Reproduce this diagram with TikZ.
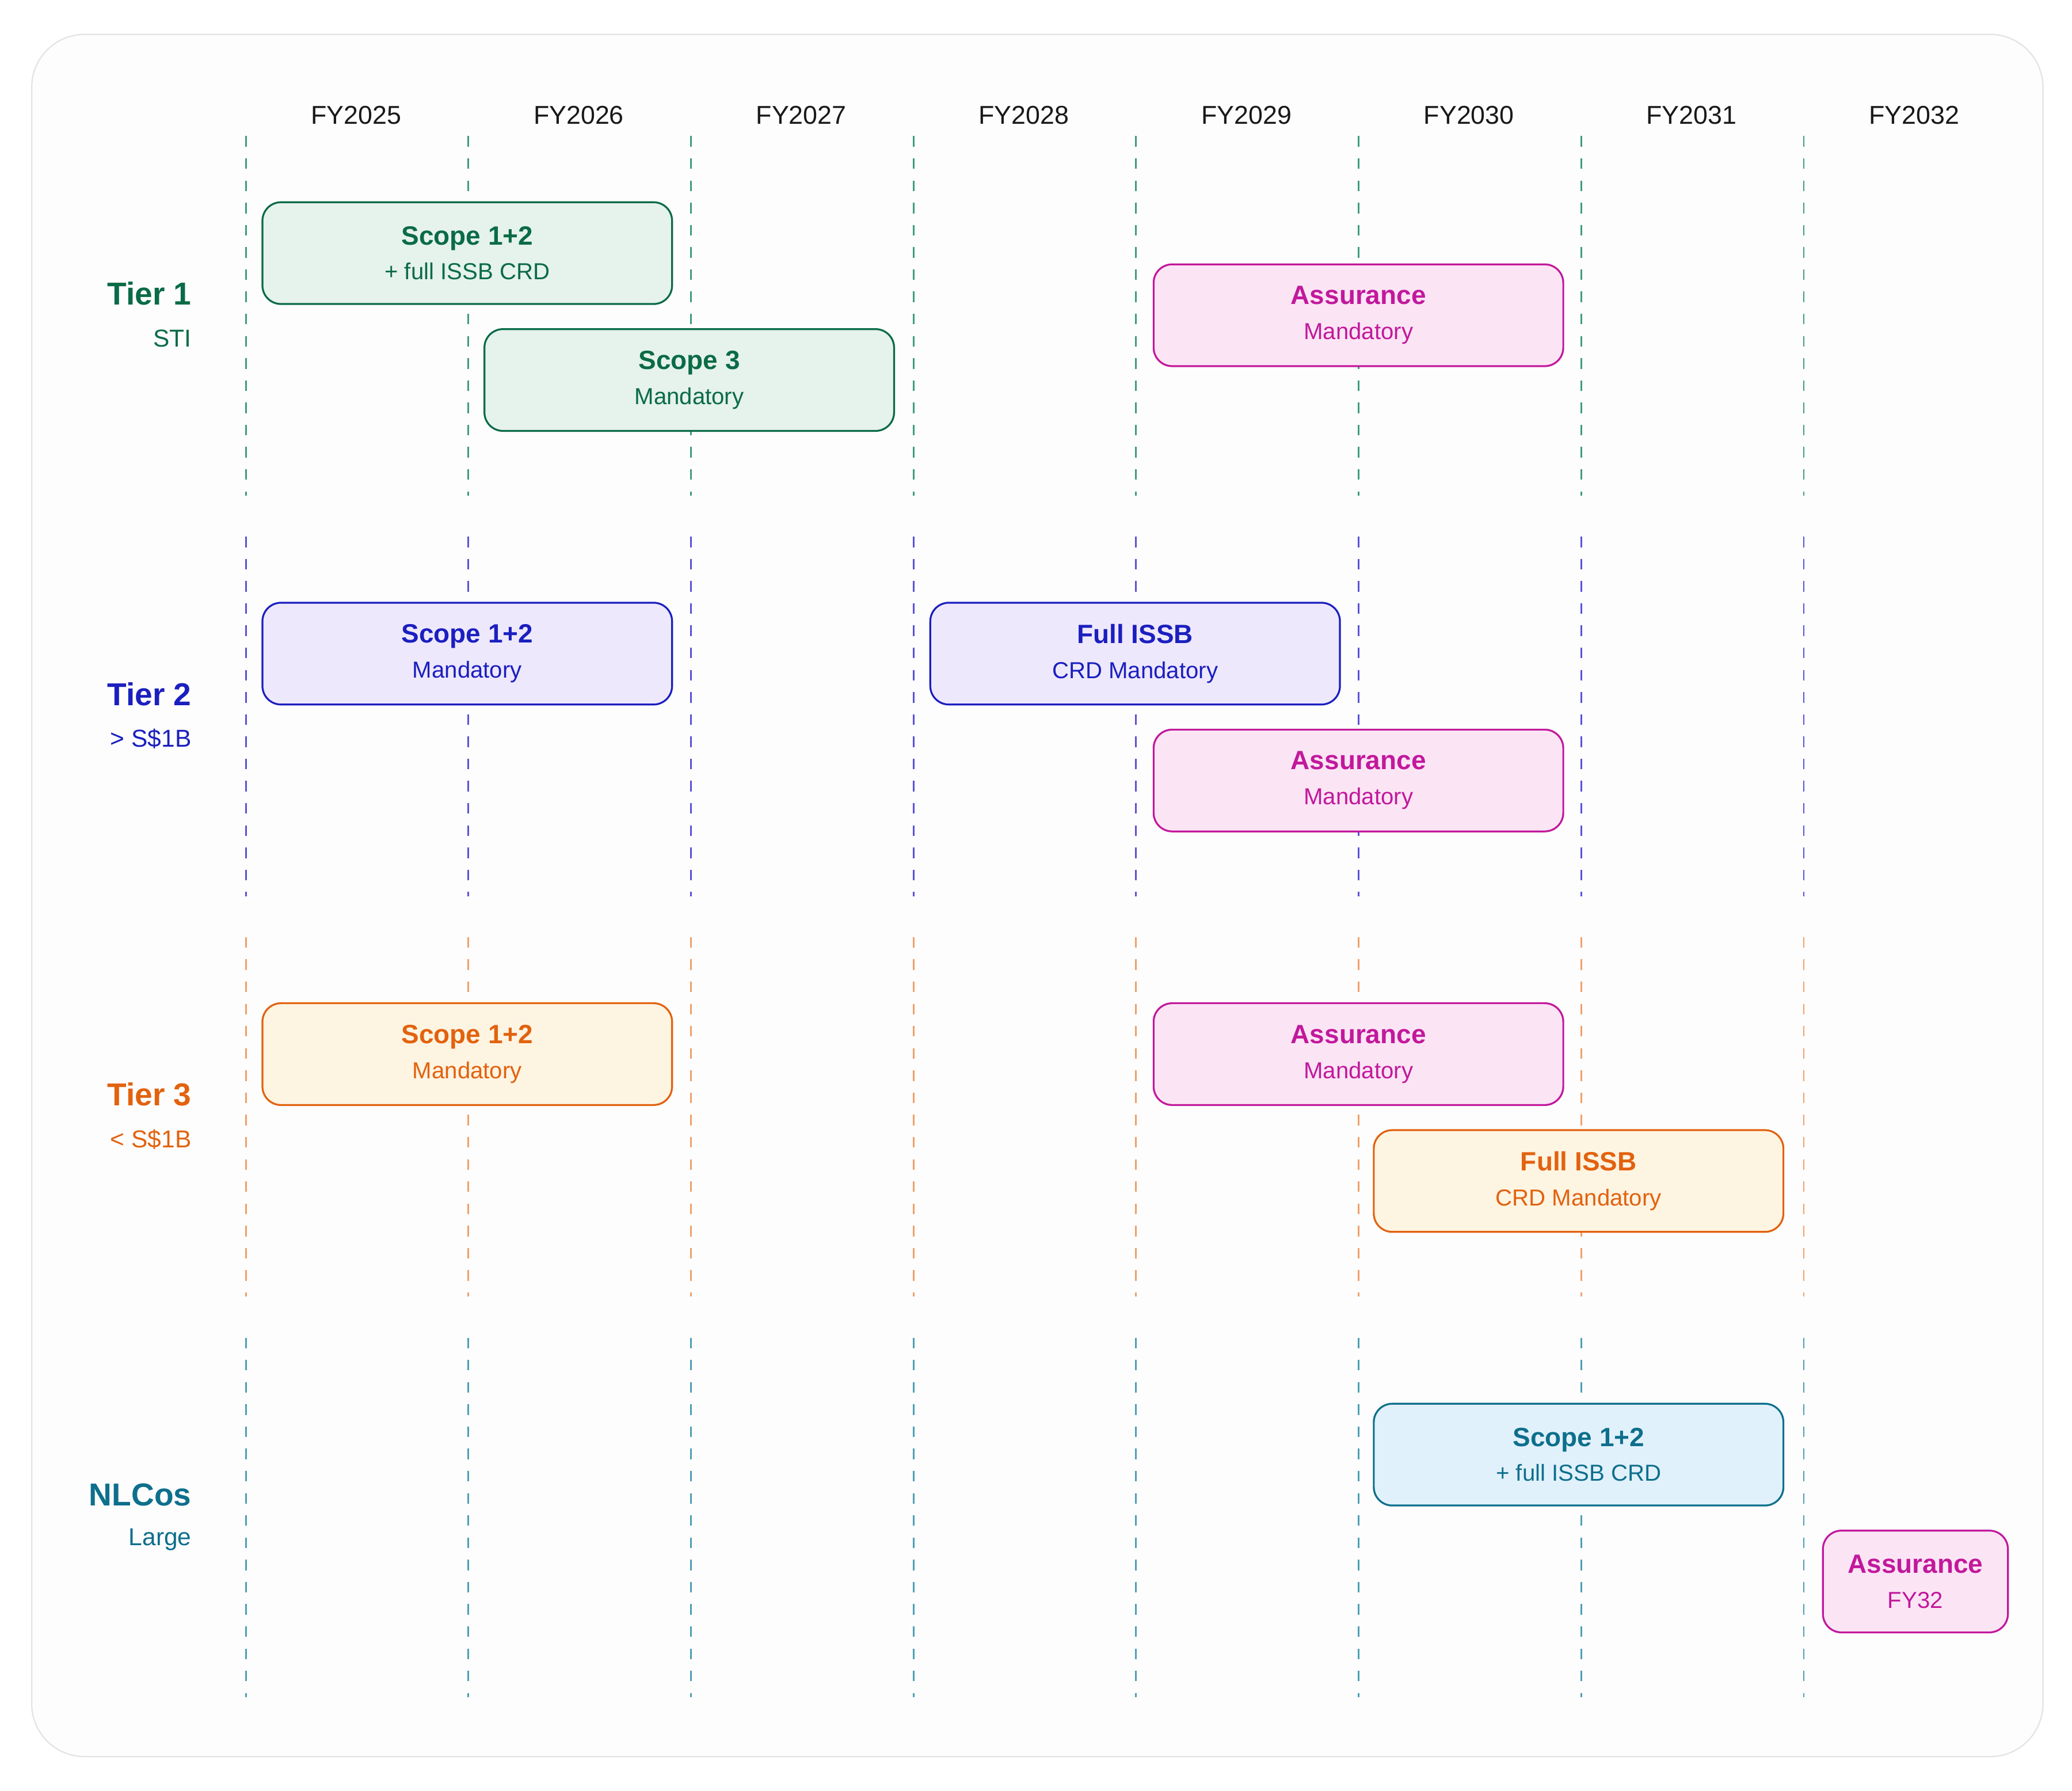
\documentclass[tikz,border=0pt]{standalone}
\usepackage{fontspec}
\setmainfont{Liberation Sans}
\usetikzlibrary{positioning}

\definecolor{grnD}{HTML}{0A6B47}
\definecolor{grnF}{HTML}{E6F2EC}
\definecolor{grnL}{HTML}{3F9C7E}
\definecolor{bluD}{HTML}{1B1FBF}
\definecolor{bluF}{HTML}{EEE8FC}
\definecolor{bluL}{HTML}{5A52D8}
\definecolor{orgD}{HTML}{E2620E}
\definecolor{orgF}{HTML}{FEF4E2}
\definecolor{orgL}{HTML}{F0A06A}
\definecolor{telD}{HTML}{0D6F8C}
\definecolor{telF}{HTML}{E1F1FB}
\definecolor{telL}{HTML}{4D9FB5}
\definecolor{pnkD}{HTML}{C2189C}
\definecolor{pnkF}{HTML}{FBE5F5}
\definecolor{panelF}{HTML}{FDFDFD}
\definecolor{panelD}{HTML}{E4E4E7}

\newcommand{\bxtext}[2]{{\fontsize{20}{26}\selectfont\bfseries #1}\\#2}

\begin{document}
\begin{tikzpicture}[x=1pt,y=-1pt,
  box/.style={draw,rounded corners=14pt,line width=1.4pt,minimum width=310pt,
    minimum height=77pt,inner sep=0pt,align=center,font=\fontsize{17.5}{26.5}\selectfont},
  sgreen/.style={box,draw=grnD,fill=grnF,text=grnD},
  sblue/.style={box,draw=bluD,fill=bluF,text=bluD},
  sorange/.style={box,draw=orgD,fill=orgF,text=orgD},
  steal/.style={box,draw=telD,fill=telF,text=telD},
  spink/.style={box,draw=pnkD,fill=pnkF,text=pnkD},
  vdash/.style={line width=1.3pt,dash pattern=on 8pt off 8.8pt},
  yearlbl/.style={font=\fontsize{19.5}{23}\selectfont,text=black!90},
  tierlbl/.style={anchor=east,inner sep=0pt,font=\fontsize{24}{28}\selectfont\bfseries},
  sublbl/.style={anchor=east,inner sep=0pt,font=\fontsize{18.5}{22}\selectfont}]

  \useasboundingbox (0,0) rectangle (1568,1355);
  \fill[white] (0,0) rectangle (1568,1355);
  \draw[panelD,fill=panelF,line width=1pt,rounded corners=40pt] (24,26) rectangle (1546,1329);

  % year columns
  \foreach \k [evaluate=\k as \yr using int(2025+\k)] in {0,...,7}
    \node[yearlbl] (fy\k) at ({269.5+168.43*\k},87) {FY\yr};
  \foreach \t/\col in {0/grnL,1/bluL,2/orgL,3/telL}
    \foreach \k in {0,...,7}
      \draw[vdash,\col] ({186+168.43*\k},{103+303*\t}) -- ++(0,272);

  % tier labels
  \node[tierlbl,text=grnD] (tier1) at (145,222) {Tier 1};
  \node[sublbl,text=grnD] (sub1) at (145,256) {STI};
  \node[tierlbl,text=bluD] (tier2) at (145,525) {Tier 2};
  \node[sublbl,text=bluD] (sub2) at (145,559) {> S\$1B};
  \node[tierlbl,text=orgD] (tier3) at (145,828) {Tier 3};
  \node[sublbl,text=orgD] (sub3) at (145,862) {< S\$1B};
  \node[tierlbl,text=telD] (nlco) at (145,1131) {NLCos};
  \node[sublbl,text=telD] (sub4) at (145,1165) {Large};

  % tier 1
  \node[sgreen] (t1scope) at (353.6,191.5) {\bxtext{Scope 1+2}{+ full ISSB CRD}};
  \node[sgreen] (t1three) at (521.6,287.5) {\bxtext{Scope 3}{Mandatory}};
  \node[spink] (t1assur) at (1028,238.5) {\bxtext{Assurance}{Mandatory}};
  % tier 2
  \node[sblue] (t2scope) at (353.6,494.5) {\bxtext{Scope 1+2}{Mandatory}};
  \node[sblue] (t2issb) at (859,494.5) {\bxtext{Full ISSB}{CRD Mandatory}};
  \node[spink] (t2assur) at (1028,590.5) {\bxtext{Assurance}{Mandatory}};
  % tier 3
  \node[sorange] (t3scope) at (353.6,797.5) {\bxtext{Scope 1+2}{Mandatory}};
  \node[spink] (t3assur) at (1028,797.5) {\bxtext{Assurance}{Mandatory}};
  \node[sorange] (t3issb) at (1194.6,893.5) {\bxtext{Full ISSB}{CRD Mandatory}};
  % NLCos
  \node[steal] (t4scope) at (1194.6,1100.5) {\bxtext{Scope 1+2}{+ full ISSB CRD}};
  \node[spink,minimum width=140pt] (t4assur) at (1449.5,1196.5) {\bxtext{Assurance}{FY32}};
\end{tikzpicture}
\end{document}
